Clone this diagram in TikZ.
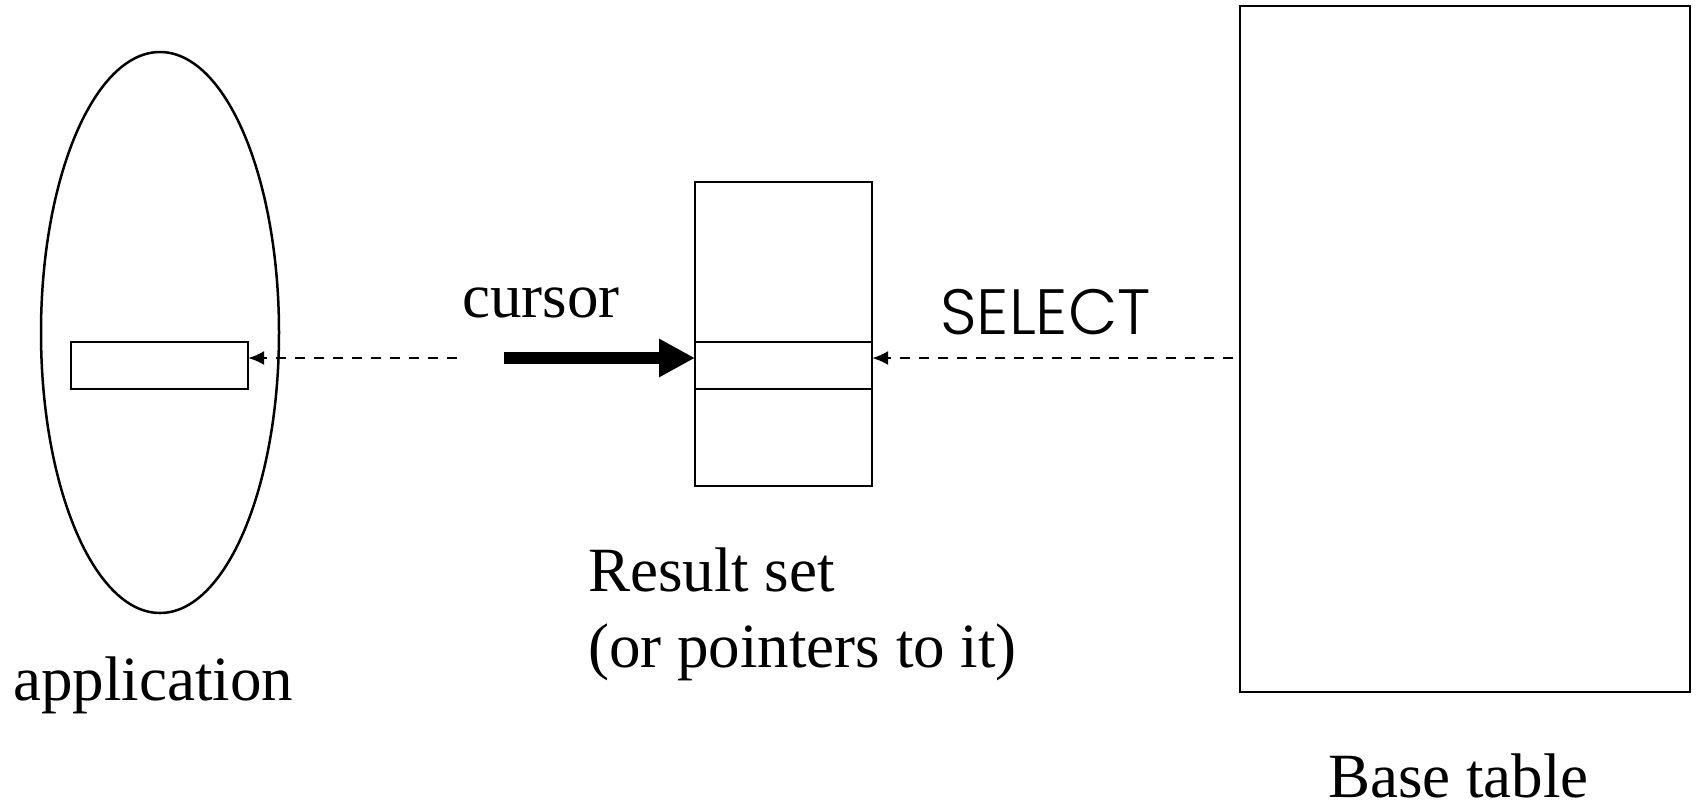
\documentclass[tikz,border=0pt]{standalone}
\usepackage{fontspec}
\setmainfont{Liberation Serif}
\newfontfamily\gothic{Poppins}[UprightFont=* Light]
\usetikzlibrary{arrows.meta,shapes.geometric}
\begin{document}
\begin{tikzpicture}[x=1pt,y=-1pt,
  shapeline/.style={draw,line width=2.5pt,inner sep=0pt,outer sep=0pt},
  lbl/.style={font=\fontsize{63}{58}\selectfont,anchor=base west,inner sep=0pt},
  dashedarrow/.style={line width=2.5pt,dash pattern=on 10pt off 9pt,-{Latex[length=16pt,width=14pt]}},
  thickarrow/.style={line width=12pt,-{Triangle[length=36pt,width=36pt]},shorten >=0pt}]
\useasboundingbox (0,0) rectangle (1696,804);
% application
\node[shapeline,ellipse,minimum width=238pt,minimum height=561pt] (app) at (160,332.5) {};
\node[shapeline,rectangle,minimum width=177pt,minimum height=47pt] (slot) at (159.5,365.5) {};
% result set
\node[shapeline,rectangle,minimum width=177pt,minimum height=304pt] (res) at (783.5,334) {};
\coordinate (r1) at (695,342); \coordinate (r1e) at (872,342);
\coordinate (r2) at (695,389); \coordinate (r2e) at (872,389);
\draw[line width=2.5pt] (r1) -- (r1e) (r2) -- (r2e);
% base table
\node[shapeline,rectangle,minimum width=450pt,minimum height=686pt] (base) at (1465,349) {};
% arrows
\coordinate (d1s) at (457,358);
\draw[dashedarrow] (d1s) -- (slot.east |- d1s);
\coordinate (c1s) at (504,358);
\draw[thickarrow] (c1s) -- (res.west |- c1s);
\coordinate (d2s) at (1233,358);
\draw[dashedarrow] (d2s) -- (res.east |- d2s);
% labels
\node[lbl] (cursor) at (462,317) {cursor};
\node[font={\gothic\fontsize{64}{64}\selectfont},anchor=base west,inner sep=0pt] (select) at (940,334) {SELECT};
\node[lbl] (rs1) at (588,591) {Result set};
\node[lbl] (rs2) at (588,667) {(or pointers to it)};
\node[lbl] (applbl) at (13,700) {application};
\node[lbl] (baselbl) at (1328,797) {Base table};
\end{tikzpicture}
\end{document}
